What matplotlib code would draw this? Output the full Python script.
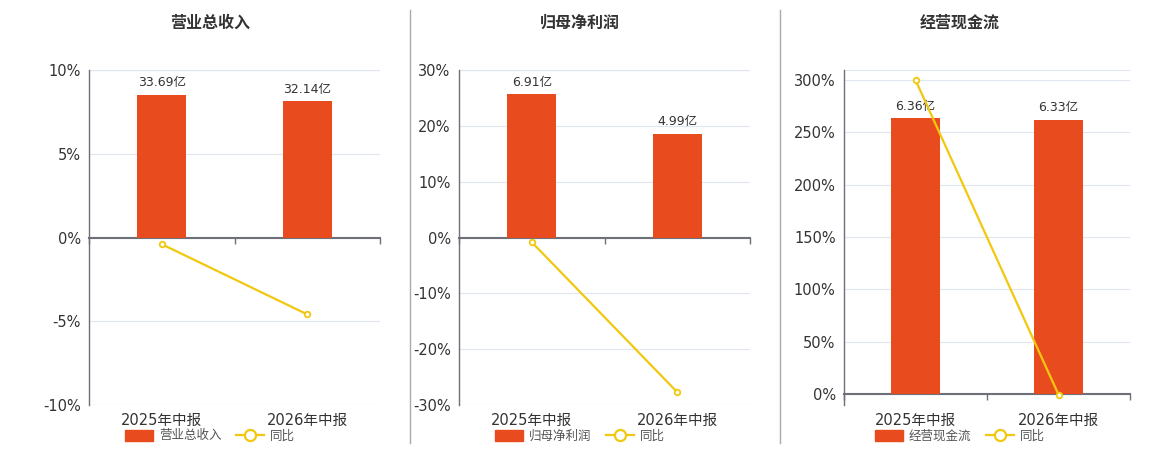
import matplotlib
matplotlib.use('Agg')
import matplotlib.pyplot as plt
from matplotlib.lines import Line2D
from matplotlib.patches import Patch
import numpy as np

plt.rcParams['font.family'] = ['DejaVu Sans', 'Noto Sans CJK SC']

periods = ['2025年中报', '2026年中报']

titles = ['营业总收入', '归母净利润', '经营现金流']
bar_values = [[33.69, 32.14], [6.91, 4.99], [6.36, 6.33]]
bar_labels = [['33.69亿', '32.14亿'], ['6.91亿', '4.99亿'], ['6.36亿', '6.33亿']]
yoy_values = [[-0.40, -4.59], [-0.83, -27.7], [300.0, -0.5]]

# axis ranges (percent axis, hidden value axis) and visible ticks
pct_lims = [(-10, 10), (-30, 30), (-10.5, 309.6)]
val_lims = [(-39.5, 39.5), (-8.07, 8.07), (-0.254, 7.474)]
pct_ticks = [[-10, -5, 0, 5, 10], [-30, -20, -10, 0, 10, 20, 30], [0, 50, 100, 150, 200, 250, 300]]

bar_color = '#e84c1e'
line_color = '#f2c80f'
axis_color = '#6e7079'
grid_color = '#e0e6f1'
text_color = '#333333'

fig = plt.figure(figsize=(11.6, 4.5), dpi=100)

ax_boxes = [(89, 380), (459, 750), (844, 1130)]
title_x = [210, 580, 960]

for i in range(3):
    x0, x1 = ax_boxes[i]
    ax = fig.add_axes([x0 / 1160, 1 - 405 / 450, (x1 - x0) / 1160, (405 - 70) / 450])
    ax2 = ax.twinx()   # bars
    ax3 = ax.twinx()   # yoy line
    ax2.set_zorder(ax.get_zorder() + 1)
    ax3.set_zorder(ax.get_zorder() + 2)

    x = np.arange(len(periods))
    ax2.bar(x, bar_values[i], width=0.34, color=bar_color, zorder=2)
    for xi, v, lab in zip(x, bar_values[i], bar_labels[i]):
        ax2.annotate(lab, (xi, v), xytext=(0, 4), textcoords='offset points',
                     ha='center', va='bottom', fontsize=9, color=text_color)
    ax2.set_ylim(*val_lims[i])
    ax2.axis('off')

    ax3.plot(x, yoy_values[i], color=line_color, lw=1.6, marker='o', ms=4,
             mfc='white', mec=line_color, mew=1.3, zorder=5, clip_on=False)
    ax3.set_ylim(*pct_lims[i])
    ax3.set_xlim(-0.5, 1.5)
    ax3.axis('off')

    ax.set_xlim(-0.5, 1.5)
    ax.set_ylim(*pct_lims[i])
    ax.set_yticks(pct_ticks[i])
    ax.set_yticklabels([f'{t}%' for t in pct_ticks[i]], fontsize=10.5, color=text_color)
    ax.tick_params(axis='y', length=0, pad=6)
    for t in pct_ticks[i]:
        ax.axhline(t, color=grid_color, lw=0.8, zorder=0)
    ax.axhline(pct_lims[i][0], color=grid_color, lw=0.8, zorder=0)
    ax.axhline(pct_lims[i][1], color=grid_color, lw=0.8, zorder=0)

    for s in ['top', 'right']:
        ax.spines[s].set_visible(False)
    ax.spines['left'].set_color(axis_color)
    ax.spines['left'].set_linewidth(1)
    ax.spines['bottom'].set_position(('data', 0))
    ax.spines['bottom'].set_color(axis_color)
    ax.spines['bottom'].set_linewidth(1.5)
    ax.set_xticks([-0.5, 0.5, 1.5])
    ax.set_xticklabels([])
    ax.tick_params(axis='x', direction='out', length=4, color=axis_color, width=1)

    for xi, p in zip(x, periods):
        ax.text(xi, -0.045, p, transform=ax.get_xaxis_transform(), ha='center',
                va='center', fontsize=10.5, color=text_color)

    fig.text(title_x[i] / 1160, 1 - 23 / 450, titles[i], ha='center', va='center',
             fontsize=11.5, fontweight='bold', color=text_color)

    handles = [Patch(facecolor=bar_color, edgecolor=bar_color),
               Line2D([0], [0], color=line_color, lw=1.6, marker='o', ms=8,
                      mfc='white', mec=line_color, mew=1.6)]
    fig.legend(handles, [titles[i], '同比'], loc='center',
               bbox_to_anchor=(title_x[i] / 1160, 1 - 436 / 450), ncol=2, frameon=False,
               fontsize=9, handlelength=2.2, handleheight=1.0, columnspacing=1.2,
               handletextpad=0.5, labelcolor='#555555')

for sx in [410, 780]:
    fig.add_artist(Line2D([sx / 1160, sx / 1160], [1 - 10 / 450, 1 - 443 / 450],
                          color='#aaaaaa', lw=1))

plt.savefig('out.png', dpi=100)
